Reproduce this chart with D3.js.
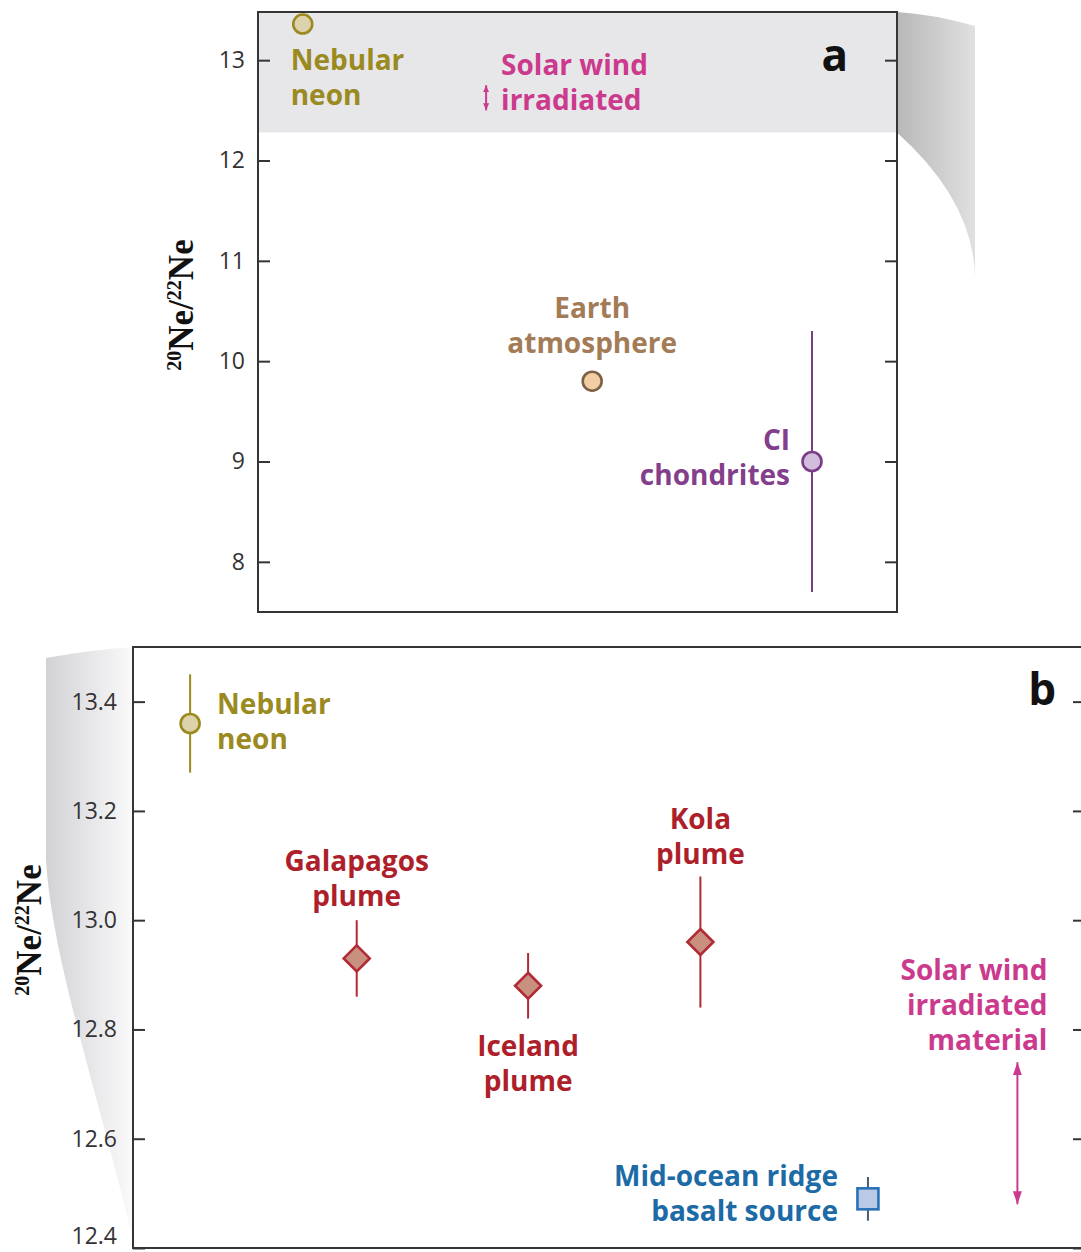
<!DOCTYPE html>
<html>
<head>
<meta charset="utf-8">
<script src="https://cdn.jsdelivr.net/npm/d3@7"></script>
<style>
  html, body { margin: 0; padding: 0; background: #ffffff; }
  svg { display: block; }
  text { font-family: "Open Sans", "Noto Sans", sans-serif; }
</style>
</head>
<body>
<svg id="chart" width="1081" height="1252"></svg>
<script>
// ---- Panel a: 20Ne/22Ne of solar-system reservoirs ----
const aTicks = [8, 9, 10, 11, 12, 13];
const aNames = ["Nebular neon", "Earth atmosphere", "CI chondrites"];
const aRatio = [13.36, 9.8, 9.0];
const aLow = [13.36, 9.8, 7.7];
const aHigh = [13.36, 9.8, 10.3];
const aSlot = [0.07, 0.523, 0.867];
const aSolarWind = [12.5, 12.75];
const aSolarSlot = 0.357;
const aBandFloor = 12.28;

// ---- Panel b: mantle plume sources ----
const bTicks = [12.4, 12.6, 12.8, 13.0, 13.2, 13.4];
const bNames = ["Nebular neon", "Galapagos plume", "Iceland plume", "Kola plume", "Mid-ocean ridge basalt source"];
const bRatio = [13.36, 12.93, 12.88, 12.96, 12.49];
const bLow = [13.27, 12.86, 12.82, 12.84, 12.45];
const bHigh = [13.45, 13.00, 12.94, 13.08, 12.53];
const bSlot = [0.06, 0.235, 0.415, 0.596, 0.772];
const bSolarWind = [12.48, 12.74];
const bSolarSlot = 0.929;

// colour / marker / label styling per reservoir
const style = {
  "Nebular neon": { text: "#9b8a1f", fill: "#dcd2ab", stroke: "#9b8a1f", shape: "circle" },
  "Earth atmosphere": { text: "#a37c57", fill: "#f3cea4", stroke: "#7d6147", shape: "circle" },
  "CI chondrites": { text: "#843f8c", fill: "#d2bddc", stroke: "#7a3d86", shape: "circle" },
  "Galapagos plume": { text: "#ad1f2b", fill: "#c99080", stroke: "#b22a35", shape: "diamond" },
  "Iceland plume": { text: "#ad1f2b", fill: "#c99080", stroke: "#b22a35", shape: "diamond" },
  "Kola plume": { text: "#ad1f2b", fill: "#c99080", stroke: "#b22a35", shape: "diamond" },
  "Mid-ocean ridge basalt source": { text: "#1c6aa6", fill: "#b9c9e6", stroke: "#2a72b8", bar: "#4b5a6e", shape: "square" }
};
const solarColor = "#cb3a8c";

// label layout: lines, anchor, offsets of first baseline from the mark
const aLabelLayout = {
  "Nebular neon": { lines: ["Nebular", "neon"], anchor: "start", dx: -12, dy: 46 },
  "Earth atmosphere": { lines: ["Earth", "atmosphere"], anchor: "middle", dx: 0, dy: -63 },
  "CI chondrites": { lines: ["CI", "chondrites"], anchor: "end", dx: -22, dy: -11 }
};
const bLabelLayout = {
  "Nebular neon": { lines: ["Nebular", "neon"], anchor: "start", dx: 27, dy: -9 },
  "Galapagos plume": { lines: ["Galapagos", "plume"], anchor: "middle", dx: 0, dy: -87 },
  "Iceland plume": { lines: ["Iceland", "plume"], anchor: "middle", dx: 0, dy: 70 },
  "Kola plume": { lines: ["Kola", "plume"], anchor: "middle", dx: 0, dy: -113 },
  "Mid-ocean ridge basalt source": { lines: ["Mid-ocean ridge", "basalt source"], anchor: "end", dx: -30, dy: -13 }
};
const LINE_H = 35;

const svg = d3.select("#chart");
const defs = svg.append("defs");

// arrowheads for the solar-wind ranges
function addArrow(id, w, h) {
  const m = defs.append("marker").attr("id", id)
    .attr("viewBox", `0 0 ${h} ${w}`).attr("refX", h).attr("refY", w / 2)
    .attr("markerWidth", h).attr("markerHeight", w)
    .attr("markerUnits", "userSpaceOnUse").attr("orient", "auto-start-reverse");
  m.append("path").attr("d", `M0,0 L${h},${w / 2} L0,${w} Z`).attr("fill", solarColor);
}
addArrow("arrowBig", 9, 13);
addArrow("arrowSmall", 6, 7);

// gradients for the zoom connectors
const gA = defs.append("linearGradient").attr("id", "swooshA").attr("x1", 0).attr("x2", 1).attr("y1", 0).attr("y2", 0);
gA.append("stop").attr("offset", 0).attr("stop-color", "#b8b8b9");
gA.append("stop").attr("offset", 1).attr("stop-color", "#e0e0e1");
const gB = defs.append("linearGradient").attr("id", "swooshB").attr("x1", 0).attr("x2", 1).attr("y1", 0).attr("y2", 0);
gB.append("stop").attr("offset", 0).attr("stop-color", "#d2d2d6");
gB.append("stop").attr("offset", 0.6).attr("stop-color", "#eaeaec");
gB.append("stop").attr("offset", 1).attr("stop-color", "#fafafa");

// ---------- geometry ----------
const A = { left: 258, right: 897, top: 12, bottom: 612 };
const B = { left: 133, right: 1085, top: 647, bottom: 1248 };

const yA = d3.scaleLinear().domain([7.5, 13.48]).range([A.bottom, A.top]);
const xA = d3.scaleLinear().domain([0, 1]).range([A.left, A.right]);
const yB = d3.scaleLinear().domain([12.4, 13.5]).range([B.bottom, B.top]);
const xB = d3.scaleLinear().domain([0, 1]).range([B.left, B.right]);

// ---------- connectors showing panel b as an enlargement ----------
const yBand = yA(aBandFloor);
svg.append("path")
  .attr("d", `M${A.right},${A.top} Q${A.right + 35},${A.top + 2} 975,${A.top + 14} L975,280 Q975,${yBand + 70} ${A.right},${yBand} Z`)
  .attr("fill", "url(#swooshA)");
svg.append("path")
  .attr("d", `M${B.left},${B.top} Q90,${B.top + 3} 46,${B.top + 11} L46,860 C52,960 100,1100 ${B.left},1240 Z`)
  .attr("fill", "url(#swooshB)");

// ---------- generic drawing helpers ----------
function drawAxes(g, box, y, ticks, fmt, pad) {
  g.append("rect").attr("x", box.left).attr("y", box.top)
    .attr("width", box.right - box.left).attr("height", box.bottom - box.top)
    .attr("fill", "none").attr("stroke", "#353535").attr("stroke-width", 2);
  const left = g.append("g").attr("transform", `translate(${box.left},0)`)
    .call(d3.axisLeft(y).tickValues(ticks).tickFormat(fmt).tickSizeInner(-12).tickSizeOuter(0).tickPadding(pad));
  const right = g.append("g").attr("transform", `translate(${box.right},0)`)
    .call(d3.axisRight(y).tickValues(ticks).tickFormat("").tickSizeInner(-12).tickSizeOuter(0));
  [left, right].forEach(ax => {
    ax.select(".domain").remove();
    ax.selectAll(".tick line").attr("stroke", "#353535").attr("stroke-width", 2);
  });
  left.selectAll(".tick text").attr("font-family", "'Open Sans', sans-serif")
    .attr("font-size", 23).attr("fill", "#333");
  return left;
}

function drawMarker(g, shape, cx, cy, s) {
  if (shape === "circle") {
    g.append("circle").attr("cx", cx).attr("cy", cy).attr("r", 9.5)
      .attr("fill", s.fill).attr("stroke", s.stroke).attr("stroke-width", 2.6);
  } else if (shape === "diamond") {
    const r = 13;
    g.append("path").attr("d", `M${cx},${cy - r} L${cx + r},${cy} L${cx},${cy + r} L${cx - r},${cy} Z`)
      .attr("fill", s.fill).attr("stroke", s.stroke).attr("stroke-width", 2.6).attr("stroke-linejoin", "miter");
  } else {
    const h = 10.5;
    g.append("rect").attr("x", cx - h).attr("y", cy - h).attr("width", 2 * h).attr("height", 2 * h)
      .attr("fill", s.fill).attr("stroke", s.stroke).attr("stroke-width", 2.6);
  }
}

function drawLabel(g, lines, x, y, anchor, color) {
  const t = g.append("text").attr("x", x).attr("y", y).attr("text-anchor", anchor)
    .attr("fill", color).attr("font-size", 28).attr("font-weight", 700);
  lines.forEach((ln, i) => t.append("tspan").attr("x", x).attr("y", y + i * LINE_H).text(ln));
}

function drawSeries(g, x, y, names, ratio, low, high, slot, layout) {
  names.forEach((name, i) => {
    const s = style[name];
    const cx = x(slot[i]), cy = y(ratio[i]);
    if (high[i] > low[i]) {
      g.append("line").attr("x1", cx).attr("x2", cx).attr("y1", y(high[i])).attr("y2", y(low[i]))
        .attr("stroke", s.bar || s.stroke).attr("stroke-width", 2);
    }
    drawMarker(g, s.shape, cx, cy, s);
    const L = layout[name];
    drawLabel(g, L.lines, cx + L.dx, cy + L.dy, L.anchor, s.text);
  });
}

function yTitle(g, cx, cy) {
  const t = g.append("text")
    .attr("transform", `translate(${cx},${cy}) rotate(-90)`)
    .attr("text-anchor", "middle")
    .style("font-family", "'Liberation Serif', 'Times New Roman', serif")
    .attr("font-weight", 700).attr("font-size", 35).attr("fill", "#111");
  t.append("tspan").attr("font-size", 20).attr("dy", -12).text("20");
  t.append("tspan").attr("dy", 12).text("Ne/");
  t.append("tspan").attr("font-size", 20).attr("dy", -12).text("22");
  t.append("tspan").attr("dy", 12).text("Ne");
}

// ---------- panel a ----------
const ga = svg.append("g");
ga.append("rect").attr("x", A.left).attr("y", A.top)
  .attr("width", A.right - A.left).attr("height", yBand - A.top).attr("fill", "#e7e7ea");
drawAxes(ga, A, yA, aTicks, d3.format("d"), 13);
drawSeries(ga, xA, yA, aNames, aRatio, aLow, aHigh, aSlot, aLabelLayout);

const sxA = xA(aSolarSlot);
ga.append("line").attr("x1", sxA).attr("x2", sxA)
  .attr("y1", yA(aSolarWind[1])).attr("y2", yA(aSolarWind[0]))
  .attr("stroke", solarColor).attr("stroke-width", 2)
  .attr("marker-start", "url(#arrowSmall)").attr("marker-end", "url(#arrowSmall)");
drawLabel(ga, ["Solar wind", "irradiated"], sxA + 15, yA(aSolarWind[0]) - 35, "start", solarColor);

ga.append("text").attr("x", 848).attr("y", 71).attr("text-anchor", "end")
  .attr("font-size", 44).attr("font-weight", 700).attr("fill", "#111").text("a");
yTitle(ga, 193, 305);

// ---------- panel b ----------
const gb = svg.append("g");
const bAxis = drawAxes(gb, B, yB, bTicks, d3.format(".1f"), 16);
// the lowest tick label sits at the page edge; lift it so it stays in view
bAxis.selectAll(".tick text").filter(d => d === bTicks[0]).attr("dy", "-0.2em");

drawSeries(gb, xB, yB, bNames, bRatio, bLow, bHigh, bSlot, bLabelLayout);

const sxB = xB(bSolarSlot);
gb.append("line").attr("x1", sxB).attr("x2", sxB)
  .attr("y1", yB(bSolarWind[1])).attr("y2", yB(bSolarWind[0]))
  .attr("stroke", solarColor).attr("stroke-width", 2)
  .attr("marker-start", "url(#arrowBig)").attr("marker-end", "url(#arrowBig)");
drawLabel(gb, ["Solar wind", "irradiated", "material"], sxB + 30, yB(bSolarWind[1]) - 82, "end", solarColor);

gb.append("text").attr("x", 1056).attr("y", 705).attr("text-anchor", "end")
  .attr("font-size", 44).attr("font-weight", 700).attr("fill", "#111").text("b");
yTitle(gb, 41, 930);
</script>
</body>
</html>
